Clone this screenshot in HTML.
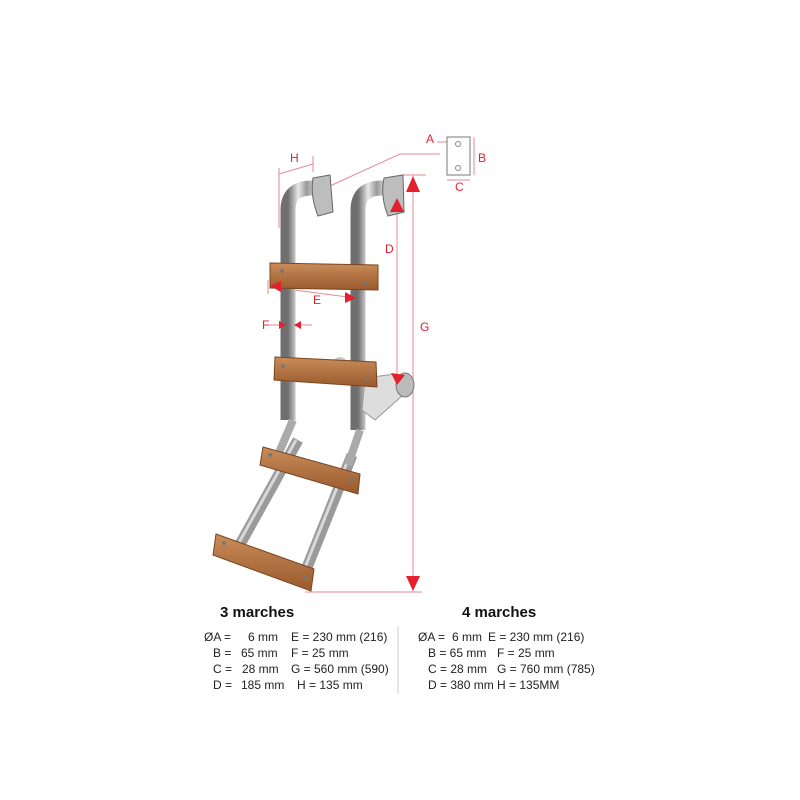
<!DOCTYPE html>
<html><head><meta charset="utf-8"><style>
body{margin:0;background:#fff;width:800px;height:800px;overflow:hidden}
svg{display:block}
text{font-family:"Liberation Sans",sans-serif}
</style></head><body>
<svg width="800" height="800" viewBox="0 0 800 800">
<defs>
<linearGradient id="steel" x1="0" x2="1" y1="0" y2="0">
<stop offset="0" stop-color="#6f6f6f"/><stop offset="0.3" stop-color="#e8e8e8"/><stop offset="0.55" stop-color="#9a9a9a"/><stop offset="0.8" stop-color="#d8d8d8"/><stop offset="1" stop-color="#5a5a5a"/></linearGradient>
<linearGradient id="wood" x1="0" x2="0" y1="0" y2="1">
<stop offset="0" stop-color="#c98c5a"/><stop offset="1" stop-color="#9a5a2c"/></linearGradient>
</defs>
<g stroke="#e58a96" stroke-width="1" fill="none">
<line x1="279" y1="168" x2="279" y2="228"/>
<line x1="313" y1="156" x2="313" y2="172"/>
<line x1="279" y1="174" x2="313" y2="164"/>
<polyline points="330,186 400,154 440,154"/>
<line x1="402" y1="175" x2="426" y2="175"/>
<line x1="413" y1="175" x2="413" y2="592"/>
<line x1="305" y1="592" x2="422" y2="592"/>
<line x1="397" y1="205" x2="397" y2="385"/>
<line x1="272" y1="287" x2="355" y2="298"/>
<line x1="268" y1="280" x2="268" y2="294"/>
<line x1="268" y1="325" x2="312" y2="325"/>
<line x1="437" y1="142" x2="448" y2="142"/>
<line x1="474" y1="137" x2="474" y2="175"/>
<line x1="447" y1="180" x2="470" y2="180"/>
</g>
<rect x="447" y="137" width="23" height="38" fill="#fff" stroke="#777" stroke-width="1"/>
<circle cx="458" cy="144" r="2.5" fill="none" stroke="#888"/>
<circle cx="458" cy="168" r="2.5" fill="none" stroke="#888"/>
<path d="M288 420 V210 Q288 188 312 188 H322" stroke="url(#steel)" stroke-width="15" fill="none"/>
<path d="M358 430 V210 Q358 188 382 188 H392" stroke="url(#steel)" stroke-width="15" fill="none"/>
<path d="M313 178 L330 175 L333 212 L318 216 Q310 196 313 178Z" fill="#bdbdbd" stroke="#666"/>
<path d="M384 178 L403 175 L404 212 L388 216 Q380 196 384 178Z" fill="#bdbdbd" stroke="#666"/>
<line x1="298" y1="440" x2="238" y2="548" stroke="#9a9a9a" stroke-width="11"/>
<line x1="296" y1="440" x2="236" y2="548" stroke="#d8d8d8" stroke-width="3"/>
<line x1="352" y1="455" x2="300" y2="585" stroke="#9a9a9a" stroke-width="11"/>
<line x1="350" y1="455" x2="298" y2="585" stroke="#d8d8d8" stroke-width="3"/>
<line x1="293" y1="420" x2="278" y2="455" stroke="#aaa" stroke-width="8"/>
<line x1="360" y1="430" x2="348" y2="465" stroke="#aaa" stroke-width="8"/>
<path d="M365 378 L395 374 L403 395 L375 420 L362 410Z" fill="#ddd" stroke="#999"/>
<ellipse cx="405" cy="385" rx="9" ry="12" fill="#bbb" stroke="#777"/>
<ellipse cx="340" cy="365" rx="8" ry="8" fill="#ccc"/>
<polygon points="270,263 378,265 378,290 270,288" fill="url(#wood)" stroke="#7a4520" stroke-width="1"/>
<polygon points="275,357 376,362 377,387 274,380" fill="url(#wood)" stroke="#7a4520" stroke-width="1"/>
<polygon points="263,447 360,474 358,494 260,465" fill="url(#wood)" stroke="#7a4520" stroke-width="1"/>
<polygon points="216,534 314,569 311,591 213,555" fill="url(#wood)" stroke="#7a4520" stroke-width="1"/>
<g fill="#777"><circle cx="282" cy="271" r="2"/><circle cx="366" cy="283" r="2"/><circle cx="283" cy="366" r="2"/><circle cx="367" cy="379" r="2"/><circle cx="270" cy="455" r="2"/><circle cx="351" cy="480" r="2"/><circle cx="224" cy="543" r="2"/><circle cx="306" cy="578" r="2"/></g>
<g fill="#e2202e">
<polygon points="413,176 406,192 420,192"/>
<polygon points="413,591 406,576 420,576"/>
<polygon points="397,198 390,212 404,212"/>
<polygon points="397,385 391,373 405,375"/>
<polygon points="270,286 281,281 281,292"/>
<polygon points="356,298 345,292 345,303"/>
<polygon points="286,325 279,321 279,329"/>
<polygon points="294,325 301,321 301,329"/>
</g>
<g fill="#e2202e" font-size="12">
<text x="290" y="162">H</text>
<text x="385" y="253">D</text>
<text x="420" y="331">G</text>
<text x="313" y="304">E</text>
<text x="262" y="329">F</text>
<text x="426" y="143">A</text>
<text x="478" y="162">B</text>
<text x="455" y="191">C</text>
</g>
<text x="220" y="617" font-size="15" font-weight="bold" fill="#111">3 marches</text>
<text x="462" y="617" font-size="15" font-weight="bold" fill="#111">4 marches</text>
<line x1="398" y1="626" x2="398" y2="694" stroke="#ccc"/>
<g font-size="12" fill="#222">
<text x="204" y="641">ØA =</text><text x="248" y="641">6 mm</text><text x="291" y="641">E = 230 mm (216)</text>
<text x="213" y="657">B =</text><text x="241" y="657">65 mm</text><text x="291" y="657">F = 25 mm</text>
<text x="213" y="673">C =</text><text x="242" y="673">28 mm</text><text x="291" y="673">G = 560 mm (590)</text>
<text x="213" y="689">D =</text><text x="241" y="689">185 mm</text><text x="297" y="689">H = 135 mm</text>
<text x="418" y="641">ØA =</text><text x="452" y="641">6 mm</text><text x="488" y="641">E = 230 mm (216)</text>
<text x="428" y="657">B = 65 mm</text><text x="497" y="657">F = 25 mm</text>
<text x="428" y="673">C = 28 mm</text><text x="497" y="673">G = 760 mm (785)</text>
<text x="428" y="689">D = 380 mm H = 135MM</text>
</g>
</svg>
</body></html>
